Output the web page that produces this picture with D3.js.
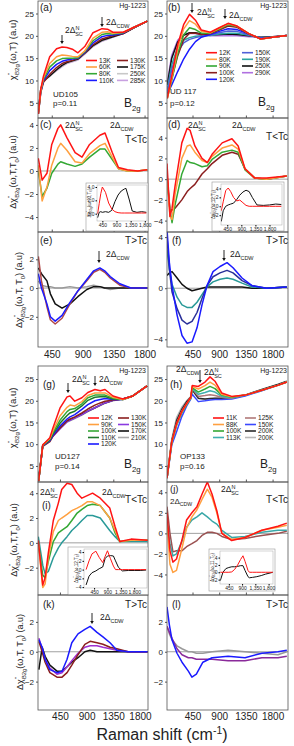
<!DOCTYPE html>
<html>
<head>
<meta charset="utf-8">
<script src="https://cdn.jsdelivr.net/npm/d3@7"></script>
<style>
  body { margin: 0; background: #fff; }
  text { font-family: "Liberation Sans", Arial, sans-serif; fill: #222; }
</style>
</head>
<body>
<script>
// ---------------- data ----------------
const xTicks = [450, 900, 1350, 1800];

// (a) UD105 raw spectra
const aX = [255, 290, 330, 420, 520, 600, 670, 750, 830, 930, 1050, 1180, 1260, 1340, 1490, 1630, 1840];
const aT = ["13K", "60K", "80K", "110K", "130K", "175K", "250K", "285K"];
const aY = [
  [2.5, 8, 11, 15.3, 17.1, 17.5, 17.4, 17.0, 16.2, 17.6, 20.7, 21.6, 21.5, 20.8, 20.8, 21.8, 23.3],
  [2.5, 7.8, 10.6, 13.8, 15.3, 15.7, 15.6, 15.4, 15.3, 16.6, 19.5, 20.8, 20.9, 20.6, 20.8, 21.8, 23.3],
  [2.5, 7.6, 10.3, 13.0, 14.4, 14.9, 15.0, 15.0, 15.1, 16.5, 18.9, 20.3, 20.5, 20.4, 20.7, 21.8, 23.3],
  [2.5, 7.4, 10.0, 12.2, 13.6, 14.3, 14.6, 14.8, 15.0, 16.3, 18.4, 19.8, 20.1, 20.2, 20.6, 21.8, 23.3],
  [2.5, 7.3, 9.6, 11.4, 12.9, 13.8, 14.2, 14.5, 14.9, 16.2, 18.0, 19.3, 19.7, 20.0, 20.5, 21.7, 23.3],
  [3.0, 8.0, 9.9, 11.0, 12.4, 13.4, 14.0, 14.4, 14.8, 16.1, 17.8, 19.0, 19.4, 19.8, 20.5, 21.7, 23.3],
  [3.0, 8.0, 9.8, 10.9, 12.3, 13.2, 13.9, 14.3, 14.7, 16.0, 17.7, 18.9, 19.3, 19.8, 20.5, 21.7, 23.3],
  [3.0, 8.2, 10.0, 11.0, 12.2, 13.1, 13.8, 14.2, 14.6, 15.9, 17.6, 18.8, 19.2, 19.7, 20.5, 21.7, 23.3]
];

// (b) UD117 raw spectra
const bX = [25, 100, 200, 300, 400, 500, 600, 750, 900, 1050, 1200, 1400, 1600, 1800, 2040];
const bT = ["12K", "80K", "90K", "100K", "120K", "150K", "190K", "250K", "290K"];
const bY = [
  [6, 11, 18, 22.5, 24.8, 23.5, 21.3, 20.8, 21.8, 22.8, 22.2, 20.5, 19.3, 19.7, 20.1],
  [6, 10.5, 17, 21.5, 23.4, 22.6, 21.0, 20.7, 21.7, 22.7, 22.2, 20.5, 19.3, 19.7, 20.1],
  [6, 10, 16, 20.2, 21.8, 21.4, 20.6, 20.6, 21.5, 22.5, 22.1, 20.5, 19.3, 19.7, 20.1],
  [6.5, 10.5, 15.5, 19.2, 20.6, 20.6, 20.3, 20.5, 21.3, 22.2, 21.9, 20.4, 19.3, 19.7, 20.1],
  [7, 9, 12, 14.8, 17, 18.7, 19.7, 20.3, 21, 21.6, 21.4, 20.4, 19.4, 19.7, 20.1],
  [7.5, 12.5, 16.5, 18.4, 19.2, 19.6, 19.9, 20.2, 20.7, 21.1, 21.0, 20.2, 19.5, 19.7, 20.1],
  [8, 13.5, 17.5, 19.0, 19.6, 19.9, 20.0, 20.1, 20.4, 20.6, 20.6, 20.1, 19.6, 19.7, 20.1],
  [9, 15, 18.6, 20.1, 20.7, 20.7, 20.4, 20.2, 20.3, 20.4, 20.3, 20.0, 19.7, 19.8, 20.1],
  [9.5, 15.6, 19, 20.3, 20.6, 20.5, 20.2, 20.0, 20.0, 20.0, 20.0, 19.8, 19.7, 19.8, 20.1]
];

// (c) UD105 differences, T<Tc
const cX = [255, 310, 380, 450, 540, 580, 670, 790, 890, 1000, 1150, 1225, 1330, 1420, 1550, 1700, 1840];
const cT = ["13K", "60K", "80K"];
const cY = [
  [1.1, -0.8, -0.2, 2.3, 3.7, 4.0, 2.9, 1.6, 1.2, 2.3, 3.1, 3.3, 1.6, 0.3, 0.1, 0.0, 0.1],
  [0.5, -2.6, -1.4, 0.5, 2.0, 2.4, 1.8, 0.8, 0.7, 1.5, 2.2, 2.4, 1.2, 0.2, 0.0, 0.0, 0.1],
  [0.0, -2.2, -1.5, -0.2, 0.6, 0.8, 0.6, 0.4, 0.6, 1.2, 1.9, 1.9, 1.0, 0.2, 0.0, 0.0, 0.1]
];
const ciX = [300, 350, 400, 450, 550, 650, 750, 850, 950, 1050, 1150, 1200, 1300, 1400, 1550, 1700, 1850];
const ciY = [
  [0.0, 1.5, 3.0, 4.0, 3.2, 1.6, 0.7, 0.3, 0.15, 0.1, 0.1, 0.1, 0.1, 0.1, 0.1, 0.1, 0.1],
  [-0.6, 0.2, 0.3, 0.2, 0.3, 0.2, 0.5, 1.8, 2.8, 3.4, 3.7, 3.8, 2.2, 0.4, 0.2, 0.3, 0.2]
];

// (d) UD117 differences, T<Tc
const dX = [20, 70, 105, 155, 270, 360, 410, 490, 610, 700, 780, 950, 1115, 1220, 1335, 1500, 1700, 2040];
const dT = ["12K", "80K", "90K", "100K"];
const dY = [
  [1.5, -3.6, -2.8, -0.7, 3.5, 4.9, 4.7, 3.2, 2.0, 1.6, 2.4, 3.5, 3.9, 3.2, 1.0, 0.1, 0.1, 0.3],
  [0.5, -3.6, -3.9, -1.5, 2.0, 3.2, 3.3, 2.6, 1.8, 1.6, 2.2, 3.0, 3.3, 2.9, 1.0, 0.1, 0.0, 0.3],
  [0.0, -3.0, -4.2, -2.5, 0.5, 1.8, 1.6, 1.5, 1.2, 1.3, 1.9, 2.6, 2.8, 2.6, 0.9, 0.1, 0.0, 0.3],
  [0.5, -3.0, -3.0, -2.8, -2.0, -1.2, -0.9, -0.5, 0.5, 1.0, 1.5, 2.3, 2.6, 2.4, 1.0, 0.1, 0.0, 0.3]
];
const diX = [260, 320, 400, 480, 560, 650, 750, 850, 950, 1050, 1150, 1250, 1400, 1600, 1800, 2000, 2180];
const diY = [
  [-1.0, 1.0, 3.5, 4.1, 3.3, 2.0, 1.2, 1.4, 0.8, 0.2, 0.0, 0.0, 0.0, 0.0, 0.0, 0.0, 0.0],
  [-3.4, -1.0, 0.0, 0.3, 0.5, 0.7, 1.5, 2.5, 3.2, 3.6, 3.3, 2.0, 0.3, 0.2, 0.3, 0.5, 0.4]
];

// (e) UD105 differences, T>Tc
const eX = [255, 300, 380, 430, 500, 600, 715, 830, 960, 1060, 1150, 1220, 1300, 1440, 1600, 1840];
const eT = ["110K", "130K", "175K", "250K"];
const eY = [
  [1.0, 0.0, -1.1, -2.0, -2.3, -1.9, -1.0, -0.2, 0.6, 1.2, 1.4, 1.2, 0.8, 0.3, 0.0, 0.0],
  [2.2, 0.5, -1.3, -2.2, -2.5, -2.1, -1.1, -0.2, 0.5, 1.1, 1.3, 1.1, 0.7, 0.2, 0.0, 0.0],
  [1.4, 1.0, 0.5, -0.4, -1.1, -1.4, -1.1, -0.6, -0.1, 0.1, 0.1, 0.0, 0.0, 0.0, 0.0, 0.0],
  [0.5, 0.2, 0.1, 0.1, 0.0, 0.0, 0.1, 0.0, 0.1, 0.2, 0.1, 0.0, -0.1, 0.0, 0.0, 0.0]
];

// (f) UD117 differences, T>Tc
const fX = [20, 60, 105, 190, 273, 357, 442, 526, 610, 695, 796, 914, 1032, 1133, 1285, 1453, 1700, 2040];
const fT = ["120K", "150K", "190K", "250K"];
const fY = [
  [4.6, 2.0, 0.2, -2.1, -3.7, -4.3, -4.2, -3.1, -1.3, 0.2, 1.3, 1.7, 2.0, 1.6, 0.8, 0.2, 0.0, 0.1],
  [4.0, 1.5, -0.3, -1.6, -2.5, -2.8, -2.6, -1.9, -0.8, 0.2, 0.9, 1.2, 1.4, 1.2, 0.6, 0.2, 0.0, 0.1],
  [3.0, 1.5, 0.3, -0.7, -1.3, -1.5, -1.5, -1.1, -0.5, 0.1, 0.5, 0.7, 0.8, 0.7, 0.4, 0.1, 0.0, 0.1],
  [1.0, 1.2, 1.3, 0.8, 0.3, 0.0, -0.2, -0.1, 0.0, 0.1, 0.1, 0.1, 0.1, 0.1, 0.1, 0.0, 0.0, 0.1]
];

// (g) UD127 raw spectra
const gX = [90, 160, 280, 330, 450, 570, 620, 700, 820, 920, 1040, 1130, 1210, 1345, 1510, 1680, 1920];
const gT = ["12K", "90K", "100K", "110K", "120K", "130K", "150K", "170K", "210K"];
const gY = [
  [1.5, 9.8, 11.5, 13.7, 18.3, 20.9, 21.1, 19.9, 20.7, 21.9, 22.6, 22.3, 22.6, 21.1, 20.4, 21.1, 23.4],
  [1.5, 9.8, 11.3, 13.0, 16.5, 18.5, 19.0, 18.8, 19.8, 21.2, 21.8, 21.8, 21.8, 20.8, 20.3, 21.1, 23.4],
  [1.5, 9.7, 11.2, 12.6, 15.5, 17.5, 18.0, 18.2, 19.3, 20.7, 21.3, 21.3, 21.3, 20.6, 20.3, 21.1, 23.4],
  [1.5, 9.7, 11.0, 12.3, 14.8, 16.6, 17.2, 17.6, 18.8, 20.1, 20.8, 20.9, 21.0, 20.4, 20.3, 21.1, 23.4],
  [1.5, 9.6, 10.8, 12.0, 14.2, 15.8, 16.3, 16.8, 18.0, 19.1, 20.0, 20.3, 20.5, 20.3, 20.3, 21.1, 23.4],
  [1.5, 9.5, 10.6, 11.8, 13.7, 15.4, 15.8, 16.3, 17.2, 18.1, 19.0, 19.5, 19.9, 20.2, 20.4, 21.1, 23.4],
  [1.5, 9.7, 10.8, 11.8, 13.5, 15.2, 15.5, 16.0, 16.8, 17.6, 18.4, 19.0, 19.5, 20.1, 20.4, 21.1, 23.4],
  [2.0, 9.8, 11.0, 12.0, 13.7, 15.3, 15.6, 16.1, 16.9, 17.6, 18.4, 19.0, 19.5, 20.1, 20.4, 21.1, 23.4],
  [2.0, 9.9, 11.1, 12.1, 13.6, 15.1, 15.4, 15.9, 16.7, 17.5, 18.3, 18.9, 19.4, 20.0, 20.4, 21.1, 23.4]
];

// (h) OP133 raw spectra
const hX = [20, 100, 183, 268, 352, 420, 445, 548, 661, 745, 829, 942, 1111, 1335, 1617, 1897, 2040];
const hT = ["11K", "88K", "100K", "113K", "125K", "150K", "200K", "200K"];
const hY = [
  [2.2, 10.6, 14.8, 17.5, 19.4, 20.8, 23.5, 23.3, 24.3, 25.5, 24.5, 21.8, 21.0, 21.3, 22.4, 23.6, 24.3],
  [2.2, 10.5, 14.6, 17.4, 19.3, 20.7, 23.3, 22.7, 23.5, 24.3, 23.6, 21.5, 20.9, 21.3, 22.4, 23.6, 24.3],
  [2.2, 10.4, 14.4, 17.2, 19.1, 20.6, 23.0, 22.0, 22.7, 23.3, 22.8, 21.3, 20.8, 21.3, 22.4, 23.6, 24.3],
  [2.2, 10.3, 14.5, 17.3, 19.2, 20.6, 22.8, 21.5, 21.9, 22.3, 22.0, 21.0, 20.7, 21.3, 22.4, 23.6, 24.3],
  [2.2, 10.5, 14.8, 17.6, 19.4, 20.7, 22.8, 21.0, 21.2, 21.4, 21.2, 20.8, 20.6, 21.3, 22.4, 23.6, 24.3],
  [2.2, 9.8, 12.9, 16.3, 18.8, 20.4, 21.5, 19.8, 20.0, 20.2, 20.3, 20.3, 20.4, 21.1, 22.3, 23.6, 24.3],
  [2.2, 10.8, 15.5, 18.0, 19.8, 20.8, 22.5, 20.6, 20.4, 20.5, 20.6, 20.6, 20.7, 21.3, 22.6, 23.8, 24.5],
  [2.2, 11.2, 16.2, 18.5, 20.0, 21.0, 22.5, 20.5, 20.3, 20.4, 20.5, 20.5, 20.6, 21.2, 22.5, 23.7, 24.4]
];

// (i) UD127 differences, T<Tc
const iX = [85, 160, 200, 254, 338, 423, 480, 570, 650, 740, 820, 910, 1000, 1130, 1290, 1380, 1460, 1650, 1930];
const iT = ["12K", "90K", "100K", "110K"];
const iY = [
  [0.2, -3.4, -2.8, -0.8, 1.8, 3.2, 4.3, 4.8, 4.7, 4.0, 3.6, 3.8, 4.0, 3.6, 2.8, 1.3, 0.1, 0.3, 0.2],
  [0.0, -3.6, -3.3, -1.2, 0.9, 1.8, 2.0, 2.3, 2.6, 2.8, 3.0, 3.3, 3.3, 3.0, 2.0, 1.0, 0.1, 0.2, 0.2],
  [0.0, -2.6, -2.8, -1.5, 0.1, 0.8, 1.0, 1.3, 1.8, 2.4, 2.7, 3.0, 3.1, 3.0, 2.0, 0.8, 0.1, 0.2, 0.2],
  [0.5, -1.8, -2.5, -2.3, -1.2, -0.4, 0.0, 0.5, 1.0, 1.4, 1.8, 2.2, 2.2, 2.0, 1.0, 0.5, 0.1, 0.1, 0.1]
];
const iiX = [180, 280, 380, 510, 620, 740, 820, 900, 1000, 1100, 1170, 1270, 1400, 1600, 1800, 2000, 2200];
const iiY = [
  [0.0, 2.0, 3.6, 4.2, 2.8, 1.6, 3.0, 4.3, 2.5, 0.8, 0.0, 0.0, 0.0, 0.0, 0.0, 0.0, 0.0],
  [-3.5, -1.5, -0.7, -0.3, 0.2, 0.6, 2.5, 3.1, 3.2, 3.1, 2.0, 0.5, -0.3, -0.2, -0.2, -0.2, -0.1]
];

// (j) OP133 differences, T<Tc
const jX = [20, 70, 120, 180, 270, 350, 440, 525, 610, 700, 780, 860, 945, 1110, 1335, 1620, 1890, 2040];
const jT = ["11K", "88K", "100K", "113K"];
const jY = [
  [2.0, -1.7, -2.8, -2.5, -0.7, 1.3, 2.0, 2.6, 3.8, 5.0, 3.8, 2.2, 0.0, -0.7, -0.4, 0.3, 0.7, 1.0],
  [1.0, -3.0, -3.8, -3.6, -1.5, 0.5, 1.6, 2.3, 3.3, 4.3, 3.5, 2.0, 0.0, -0.6, -0.4, 0.3, 0.6, 0.8],
  [1.3, -1.0, -2.2, -2.0, -0.8, 0.6, 1.3, 1.6, 2.0, 1.6, 1.2, 0.9, 0.3, -0.4, -0.3, 0.1, 0.3, 0.3],
  [2.6, 0.0, -1.8, -1.7, -1.7, -1.3, -1.0, -0.7, -0.2, 0.1, 0.1, 0.0, -0.3, -0.6, -0.5, -0.2, 0.0, 0.2]
];
const jiX = [160, 250, 350, 450, 550, 650, 750, 850, 930, 1000, 1100, 1150, 1250, 1400, 1550, 1700, 1950];
const jiY = [
  [0.0, 0.0, 0.0, 0.0, 0.1, 0.8, 2.0, 3.5, 4.5, 3.0, 0.5, 0.0, 0.0, 0.0, 0.0, 0.0, 0.0],
  [-2.3, 0.0, 1.0, 1.3, 1.5, 1.5, 1.6, 1.8, 1.8, 0.5, -1.2, -1.5, -1.4, -1.2, -0.9, -0.5, 0.0]
];

// (k) UD127 differences, T>Tc
const kX = [95, 150, 200, 280, 400, 485, 570, 650, 755, 870, 960, 1075, 1175, 1295, 1410, 1600, 1930];
const kT = ["130K", "150K", "170K", "210K"];
const kY = [
  [0.8, 0.3, -0.5, -1.2, -1.4, -1.3, -0.5, 0.6, 1.2, 1.5, 1.7, 1.3, 1.0, 0.6, 0.1, 0.0, 0.0],
  [0.7, 0.0, -0.7, -1.4, -1.7, -1.7, -1.4, -0.9, -0.2, 0.5, 0.7, 0.6, 0.5, 0.3, 0.2, 0.0, 0.0],
  [0.9, 0.2, -0.5, -1.1, -1.5, -1.4, -1.0, -0.6, -0.1, 0.3, 0.4, 0.4, 0.3, 0.2, 0.1, 0.0, 0.0],
  [-1.2, 0.3, -0.3, -0.9, -1.3, -1.3, -1.0, -0.7, -0.4, 0.0, 0.1, 0.0, 0.0, 0.0, 0.0, 0.0, 0.0]
];

// (l) OP133 differences, T>Tc
const lX = [20, 60, 104, 189, 273, 380, 440, 515, 625, 780, 1050, 1335, 1620, 1890, 2040];
const lT = ["150K", "200K", "200K"];
const lY = [
  [3.0, 1.8, 0.8, -0.1, -0.7, -1.3, -1.7, -1.5, -0.7, -0.4, -0.3, -0.4, -0.1, 0.0, 0.1],
  [1.7, 1.3, 0.9, 0.2, -0.2, -0.4, -0.4, -0.5, -0.5, -0.5, -0.6, -0.6, -0.4, -0.4, -0.3],
  [1.7, 1.2, 0.8, 0.4, 0.2, 0.0, 0.0, -0.1, -0.1, 0.0, 0.1, 0.0, -0.1, -0.2, 0.0]
];

// ---------------- colours ----------------
const RED = "#ff1414", ORANGE = "#ffa040", GREEN = "#34a834", BLUE = "#1a1aff",
      BROWN = "#8b1e1e", BLACK = "#111111";
const aCol = [RED, ORANGE, GREEN, BLUE, BROWN, BLACK, "#c8c8c8", "#c8a0e0"];
const bCol = [RED, ORANGE, GREEN, BROWN, BLUE, "#5060d8", "#2aa5a0", BLACK, "#b070e0"];
const cCol = [RED, ORANGE, GREEN];
const dCol = [RED, ORANGE, GREEN, BROWN];
const eCol = [BLUE, "#b04848", BLACK, "#999999"];
const fCol = [BLUE, "#2a3098", "#2a9a98", BLACK];
const gCol = [RED, ORANGE, GREEN, "#1e7a2a", BLUE, BROWN, "#8a3ae0", BLACK, "#aaaaaa"];
const hCol = [RED, ORANGE, GREEN, "#40b0b0", "#b07878", "#3a48ff", "#2a2a2a", "#b8b8b8"];
const iCol = [RED, ORANGE, GREEN, "#2a9a98"];
const jCol = [RED, ORANGE, "#3aa8a8", "#9a5050"];
const kCol = [BLUE, BROWN, "#a030d0", BLACK];
const lCol = [BLUE, "#8a2a9a", "#999999"];

// ---------------- drawing ----------------
const svg = d3.select("body").append("svg").attr("width", 294).attr("height", 746);
const LEFT = [38, 148], RIGHT = [167, 288];
let nClip = 0;

function rich(sel, parts, fs) {
  let off = 0;
  parts.forEach(([s, k, dx]) => {
    const target = k === "sup" ? -0.4 * fs : k === "sub" ? 0.3 * fs : 0;
    const t = sel.append("tspan").attr("dy", target - off)
      .attr("font-size", k === "n" ? fs : fs * 0.65).text(s);
    if (dx) t.attr("dx", dx);
    off = target;
  });
  return sel;
}

function txt(x, y, parts, fs, anchor) {
  const t = svg.append("text").attr("x", x).attr("y", y).attr("font-size", fs)
    .attr("text-anchor", anchor || "start");
  return rich(t, typeof parts === "string" ? [[parts, "n"]] : parts, fs);
}

function arrow(x, y0, y1) {
  svg.append("line").attr("x1", x).attr("x2", x).attr("y1", y0).attr("y2", y1 - 2)
    .attr("stroke", "#111").attr("stroke-width", 0.9);
  svg.append("path").attr("d", `M${x - 1.8},${y1 - 3} L${x + 1.8},${y1 - 3} L${x},${y1} Z`).attr("fill", "#111");
}

function makePanel(xr, yr, xd, yd, yticks, opt = {}) {
  const x = d3.scaleLinear().domain(xd).range(xr);
  const y = d3.scaleLinear().domain(yd).range([yr[1], yr[0]]);
  const id = "clip" + nClip++;
  svg.append("clipPath").attr("id", id).append("rect")
    .attr("x", xr[0]).attr("y", yr[0]).attr("width", xr[1] - xr[0]).attr("height", yr[1] - yr[0]);
  const g = svg.append("g");
  const plot = g.append("g").attr("clip-path", `url(#${id})`);
  if (opt.zero) {
    plot.append("line").attr("x1", xr[0]).attr("x2", xr[1]).attr("y1", y(0)).attr("y2", y(0))
      .attr("stroke", "#888").attr("stroke-width", 0.8);
  }
  g.append("rect").attr("x", xr[0]).attr("y", yr[0]).attr("width", xr[1] - xr[0]).attr("height", yr[1] - yr[0])
    .attr("fill", "none").attr("stroke", "#555").attr("stroke-width", 0.8);
  const ay = g.append("g").attr("transform", `translate(${xr[0]},0)`)
    .call(d3.axisLeft(y).tickValues(yticks).tickSize(2).tickPadding(2));
  ay.select(".domain").remove();
  ay.selectAll("line").attr("stroke", "#555");
  ay.selectAll("text").attr("font-size", 8).attr("font-family", null).attr("fill", "#333");
  const ax = g.append("g").attr("transform", `translate(0,${yr[1]})`)
    .call(d3.axisBottom(x).tickValues(xTicks).tickSize(opt.labels ? 0 : -2.5)
      .tickPadding(opt.pad || 3).tickFormat(opt.labels ? d3.format("d") : ""));
  ax.select(".domain").remove();
  ax.selectAll("line").attr("stroke", "#555");
  ax.selectAll("text").attr("font-size", 10).attr("font-family", null).attr("fill", "#222");
  return { x, y, g, plot };
}

function curves(p, xs, ys, cols, w) {
  const line = d3.line().x((d, i) => p.x(xs[i])).y(d => p.y(d));
  for (let i = ys.length - 1; i >= 0; i--) {
    p.plot.append("path").attr("d", line(ys[i])).attr("fill", "none")
      .attr("stroke", cols[i]).attr("stroke-width", w || 1.5).attr("stroke-linejoin", "round");
  }
}

function legend(labels, cols, cx, rows, perCol) {
  labels.forEach((l, i) => {
    const c = Math.floor(i / perCol), r = i % perCol;
    const x = cx[c], y = rows[r];
    svg.append("line").attr("x1", x).attr("x2", x + 11).attr("y1", y).attr("y2", y)
      .attr("stroke", cols[i]).attr("stroke-width", 1.6);
    svg.append("text").attr("x", x + 13).attr("y", y + 2.3).attr("font-size", 6.6).text(l);
  });
}

function ylab(x, y, parts, fs) {
  const t = svg.append("text").attr("transform", `translate(${x},${y}) rotate(-90)`)
    .attr("text-anchor", "middle").attr("font-size", fs);
  rich(t, parts, fs);
}

function inset(box, xr, yr, xd, yd, yticks, xs, ys, cols, labParts) {
  svg.append("rect").attr("x", box[0]).attr("y", box[1]).attr("width", box[2] - box[0]).attr("height", box[3] - box[1])
    .attr("fill", "#fff").attr("stroke", "#999").attr("stroke-width", 0.6);
  const x = d3.scaleLinear().domain(xd).range(xr);
  const y = d3.scaleLinear().domain(yd).range([yr[1], yr[0]]);
  const id = "clip" + nClip++;
  svg.append("clipPath").attr("id", id).append("rect")
    .attr("x", xr[0]).attr("y", yr[0]).attr("width", xr[1] - xr[0]).attr("height", yr[1] - yr[0]);
  const plot = svg.append("g").attr("clip-path", `url(#${id})`);
  svg.append("rect").attr("x", xr[0]).attr("y", yr[0]).attr("width", xr[1] - xr[0]).attr("height", yr[1] - yr[0])
    .attr("fill", "none").attr("stroke", "#aaa").attr("stroke-width", 0.5);
  const ay = svg.append("g").attr("transform", `translate(${xr[0]},0)`)
    .call(d3.axisLeft(y).tickValues(yticks).tickSize(1.5).tickPadding(1));
  ay.select(".domain").remove();
  ay.selectAll("text").attr("font-size", 5).attr("font-family", null).attr("fill", "#333");
  const ax = svg.append("g").attr("transform", `translate(0,${yr[1]})`)
    .call(d3.axisBottom(x).tickValues(xTicks).tickSize(1.5).tickPadding(1));
  ax.select(".domain").remove();
  ax.selectAll("text").attr("font-size", 5).attr("font-family", null).attr("fill", "#333");
  curves({ x, y, plot }, xs, ys, cols, 1);
  ylab(xr[0] - 6, (yr[0] + yr[1]) / 2, labParts, 4.6);
}

const rawLab = [["χ", "n"], ["''", "sup"], ["B2g", "sub", -2], ["(ω,T) (a.u)", "n"]];
const diffLab = sep => [["Δχ", "n"], ["''", "sup"], ["B2g", "sub", -2], ["(ω,T," + sep + "T", "n"], ["0", "sub"], [") (a.u)", "n"]];
const insetLab = t => [["Δχ", "n"], ["''", "sup"], ["B2g", "sub", -1.5], ["(ω," + t + ",T", "n"], ["0", "sub"], [")", "n"]];
const gapSC = [["2Δ", "n"], ["N", "sup"], ["SC", "sub", -4.2]];
const gapCDW = [["2Δ", "n"], ["CDW", "sub"]];
const b2g = [["B", "n"], ["2g", "sub"]];

// ----- (a) -----
const pa = makePanel(LEFT, [1, 118], [250, 1850], [1.6, 27.8], [5, 10, 15, 20, 25]);
curves(pa, aX, aY, aCol);
txt(40, 11, "(a)", 10);
txt(146, 8, "Hg-1223", 7, "end");
arrow(62, 35, 44); txt(65, 33, gapSC, 8.5);
arrow(102, 17, 27); txt(106, 25, gapCDW, 8.5);
legend(aT, aCol, [86, 117], [60.5, 67, 73.7, 80.4], 4);
txt(53, 97, "UD105", 8); txt(53, 106, "p=0.11", 8);
txt(124, 107, b2g, 12);
ylab(16, 50, rawLab, 9.5);

// ----- (b) -----
const pb = makePanel(RIGHT, [1, 118], [20, 2060], [1.6, 27.8], [5, 10, 15, 20, 25]);
curves(pb, bX, bY, bCol);
txt(168, 11, "(b)", 10);
txt(287, 8, "Hg-1223", 7, "end");
arrow(192, 3, 13); txt(197, 15, gapSC, 8.5);
arrow(225, 9, 19); txt(229, 18, gapCDW, 8.5);
legend(bT, bCol, [206, 242], [52.7, 59.3, 66, 72.7, 79.3], 5);
txt(170, 94, "UD 117", 8); txt(170, 106, "p=0.12", 8);
txt(258, 106, b2g, 12);

// ----- (c) -----
const pc = makePanel(LEFT, [118, 232], [250, 1850], [-5.3, 4.6], [-4, -2, 0, 2, 4], { zero: true });
curves(pc, cX, cY, cCol);
txt(40, 128, "(c)", 10);
txt(65, 128, gapSC, 8.5);
txt(110, 128, gapCDW, 8.5);
txt(147, 143, "T<Tc", 10, "end");
inset([86, 183, 148, 231], [97, 147], [185, 221], [280, 1870], [-1.1, 4.3], [0, 2, 4], ciX, ciY, [RED, BLACK], insetLab("13"));
ylab(16, 172, diffLab(""), 9);

// ----- (d) -----
const pd = makePanel(RIGHT, [118, 232], [20, 2060], [-5.1, 5.9], [-4, -2, 0, 2, 4], { zero: true });
curves(pd, dX, dY, dCol);
txt(168, 128, "(d)", 10);
txt(188, 128, gapSC, 8.5);
txt(232, 128, gapCDW, 8.5);
txt(288, 140, "T<Tc", 10, "end");
inset([212, 182, 284, 231], [221, 282], [184, 225], [250, 2200], [-4.2, 5], [-2, 0, 2, 4], diX, diY, [RED, BLACK], insetLab("12"));

// ----- (e) -----
const pe = makePanel(LEFT, [232, 347], [250, 1850], [-4.1, 3.9], [-2, 0, 2], { zero: true, labels: true, pad: 4 });
curves(pe, eX, eY, eCol);
txt(40, 244, "(e)", 10);
txt(147, 244, "T>Tc", 10, "end");
arrow(99, 251, 263); txt(106, 257, gapCDW, 8.5);
ylab(22, 290, diffLab(" "), 9);

// ----- (f) -----
const pf = makePanel(RIGHT, [232, 347], [20, 2060], [-4.6, 4.4], [-4, 0, 4], { zero: true, labels: true, pad: 4 });
curves(pf, fX, fY, fCol);
txt(172, 244, "(f)", 10);
txt(288, 244, "T>Tc", 10, "end");
arrow(224, 250, 261); txt(230, 257, gapCDW, 8.5);

// ----- (g) -----
const pg = makePanel(LEFT, [366, 482], [80, 1935], [1.3, 28], [5, 10, 15, 20, 25]);
curves(pg, gX, gY, gCol);
txt(43, 388, "(g)", 10);
txt(146, 373, "Hg-1223", 7, "end");
arrow(68, 383, 393); txt(72, 382, gapSC, 8.5);
arrow(95, 376, 386); txt(99, 382, gapCDW, 8.5);
legend(gT, gCol, [88, 118], [418, 424.5, 431, 437.5, 444], 5);
txt(55, 459, "UD127", 8); txt(55, 469, "p=0.14", 8);
txt(124, 468, b2g, 12);
ylab(16, 418, rawLab, 9.5);

// ----- (h) -----
const ph = makePanel(RIGHT, [366, 482], [20, 2060], [1.3, 28], [5, 10, 15, 20, 25]);
curves(ph, hX, hY, hCol);
txt(170, 388, "(h)", 10);
txt(287, 373, "Hg-1223", 7, "end");
txt(176, 372, gapCDW, 8.5);
arrow(200, 370, 383); txt(204, 375, gapSC, 8.5);
legend(hT, hCol, [213, 245], [418, 424.5, 431, 437.5], 4);
txt(180, 459, "OP133", 8); txt(180, 469, "p=0.16", 8);
txt(260, 468, b2g, 12);

// ----- (i) -----
const pi = makePanel(LEFT, [482, 595], [80, 1935], [-4.2, 4.9], [-2, 0, 2, 4], { zero: true });
curves(pi, iX, iY, iCol);
txt(42, 509, "(i)", 10);
txt(40, 495, gapSC, 8.5);
txt(102, 495, gapCDW, 8.5);
txt(147, 503, "T<Tc", 10, "end");
inset([68, 547, 148, 595], [84, 147], [549, 588], [110, 2230], [-4.2, 4.7], [-4, -2, 0, 2, 4], iiX, iiY, [RED, BLACK], insetLab("12"));
ylab(17, 540, diffLab(""), 9);

// ----- (j) -----
const pj = makePanel(RIGHT, [482, 595], [20, 2060], [-6.0, 5.0], [-4, -2, 0, 2, 4], { zero: true });
curves(pj, jX, jY, jCol);
txt(170, 492, "(j)", 9.5);
txt(170, 504, gapCDW, 8);
txt(221, 492, gapSC, 8.5);
txt(288, 503, "T<Tc", 10, "end");
inset([209, 549, 275, 591], [220, 273], [551, 584], [150, 1950], [-3.2, 5.8], [-2, 0, 2, 4], jiX, jiY, [RED, BLACK], insetLab("11"));

// ----- (k) -----
const pk = makePanel(LEFT, [595, 710], [80, 1935], [-3.9, 3.8], [-2, 0, 2], { zero: true, labels: true, pad: 3 });
curves(pk, kX, kY, kCol);
txt(43, 608, "(k)", 10);
txt(147, 608, "T>Tc", 10, "end");
arrow(92, 613, 624); txt(100, 620, gapCDW, 8.5);
ylab(23, 652, diffLab(" "), 9);

// ----- (l) -----
const pl = makePanel(RIGHT, [595, 710], [20, 2060], [-3.9, 3.8], [-2, 0, 2], { zero: true, labels: true, pad: 3 });
curves(pl, lX, lY, lCol);
txt(172, 608, "(l)", 10);
txt(288, 608, "T>Tc", 10, "end");

// axis title
txt(162, 740, [["Raman shift (cm", "n"], ["-1", "sup"], [")", "n"]], 16, "middle");
</script>
</body>
</html>
